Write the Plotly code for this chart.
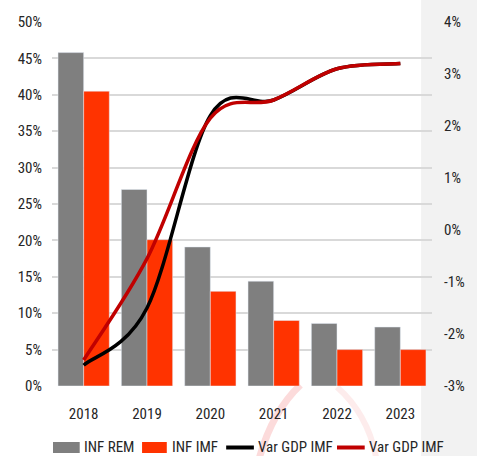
import plotly.graph_objects as go

# Years on the category axis
years = ["2018", "2019", "2020", "2021", "2022", "2023"]

# Inflation (left axis, %)
inf_rem = [45.8, 27.0, 19.1, 14.4, 8.6, 8.1]
inf_imf = [40.5, 20.1, 13.0, 9.0, 5.0, 5.0]

# GDP variation (right axis, %)
gdp_imf_a = [-2.6, -1.5, 2.2, 2.5, 3.1, 3.2]
gdp_imf_b = [-2.5, -0.55, 2.15, 2.5, 3.1, 3.2]

left_ticks = list(range(0, 55, 5))
right_ticks = list(range(-3, 5))

GREY = "#7f7f7f"
ORANGE = "#ff3300"
DARKRED = "#c00000"
FONT = "Liberation Sans Narrow, Roboto Condensed, Open Sans, sans-serif"

W, H = 477, 456
ML, MR, MT, MB = 52, 41, 22, 70
PW, PH = W - ML - MR, H - MT - MB

xpos = list(range(len(years)))


def px(x):
    return (x - ML) / PW


def py(y):
    return (H - MB - y) / PH


def smooth_path(xs, ys):
    """Cubic Bezier path through the points, Catmull-Rom tangents
    (the 'smoothed line' style of spreadsheet charts)."""
    n = len(xs)
    pts = list(zip(xs, ys))
    d = f"M {pts[0][0]},{pts[0][1]}"
    for i in range(n - 1):
        p0 = pts[max(i - 1, 0)]
        p1 = pts[i]
        p2 = pts[i + 1]
        p3 = pts[min(i + 2, n - 1)]
        c1 = (p1[0] + (p2[0] - p0[0]) / 6, p1[1] + (p2[1] - p0[1]) / 6)
        c2 = (p2[0] - (p3[0] - p1[0]) / 6, p2[1] - (p3[1] - p1[1]) / 6)
        d += (f" C {c1[0]:.4f},{c1[1]:.4f} {c2[0]:.4f},{c2[1]:.4f}"
              f" {p2[0]},{p2[1]}")
    return d


fig = go.Figure()
fig.add_bar(x=xpos, y=inf_rem, name="INF REM", marker_color=GREY)
fig.add_bar(x=xpos, y=inf_imf, name="INF IMF", marker_color=ORANGE)

shapes = [
    # light panel behind the right-hand axis
    dict(type="rect", xref="paper", yref="paper", x0=px(425), x1=px(W + 5),
         y0=py(H + 5), y1=py(-5), fillcolor="#f2f2f2", line_width=0,
         layer="below"),
    # faint watermark swoosh under the axis
    dict(type="path", xref="paper", yref="paper", layer="below",
         path=f"M {px(303)},{py(385)} Q {px(274)},{py(412)} {px(261)},{py(460)}",
         line=dict(color="rgba(250,190,190,0.55)", width=7)),
    dict(type="path", xref="paper", yref="paper", layer="below",
         path=f"M {px(340)},{py(387)} Q {px(372)},{py(415)} {px(380)},{py(460)}",
         line=dict(color="rgba(250,200,200,0.35)", width=6)),
]

# smoothed GDP lines on the right-hand axis
for series, color in ((gdp_imf_a, "black"), (gdp_imf_b, DARKRED)):
    shapes.append(dict(type="path", xref="x", yref="y2", layer="above",
                       path=smooth_path(xpos, series),
                       line=dict(color=color, width=3.5)))

# legend drawn as swatches + labels along the bottom
legend_items = [
    ("rect", GREY, 53, 80, "INF REM", 82),
    ("rect", ORANGE, 143, 168, "INF IMF", 171),
    ("line", "black", 228, 256, "Var GDP IMF", 258),
    ("line", DARKRED, 340, 368, "Var GDP IMF", 370),
]
annotations = []
for kind, color, x0, x1, label, tx in legend_items:
    if kind == "rect":
        shapes.append(dict(type="rect", xref="paper", yref="paper",
                           x0=px(x0), x1=px(x1), y0=py(453), y1=py(442),
                           fillcolor=color, line_width=0))
    else:
        shapes.append(dict(type="line", xref="paper", yref="paper",
                           x0=px(x0), x1=px(x1), y0=py(447.5), y1=py(447.5),
                           line=dict(color=color, width=4)))
    annotations.append(dict(text=label, xref="paper", yref="paper",
                            x=px(tx), y=py(447), xanchor="left",
                            yanchor="middle", showarrow=False,
                            font=dict(size=15, color="#262626", family=FONT)))

fig.update_layout(
    width=W, height=H,
    margin=dict(l=ML, r=MR, t=MT, b=MB),
    paper_bgcolor="white",
    plot_bgcolor="rgba(0,0,0,0)",
    barmode="group", bargap=0.19, bargroupgap=0,
    showlegend=False,
    font=dict(family=FONT, size=15, color="#262626"),
    xaxis=dict(range=[-0.5, len(years) - 0.5], tickvals=xpos, ticktext=years,
               showgrid=False, zeroline=False,
               ticks="outside", ticklen=14, tickcolor="rgba(0,0,0,0)",
               showline=False),
    yaxis=dict(range=[0, 50], tickvals=left_ticks,
               ticktext=[f"{v}%" for v in left_ticks],
               showgrid=True, gridcolor="#d9d9d9", gridwidth=1.5,
               zeroline=False, ticks="outside", ticklen=6,
               tickcolor="rgba(0,0,0,0)"),
    yaxis2=dict(range=[-3, 4], tickvals=right_ticks,
                ticktext=[f"{v}%" for v in right_ticks],
                overlaying="y", side="right", anchor="x", showgrid=False,
                zeroline=False, ticks="outside", ticklen=8,
                tickcolor="rgba(0,0,0,0)"),
    shapes=shapes,
    annotations=annotations,
)

fig.write_html("out.html")
